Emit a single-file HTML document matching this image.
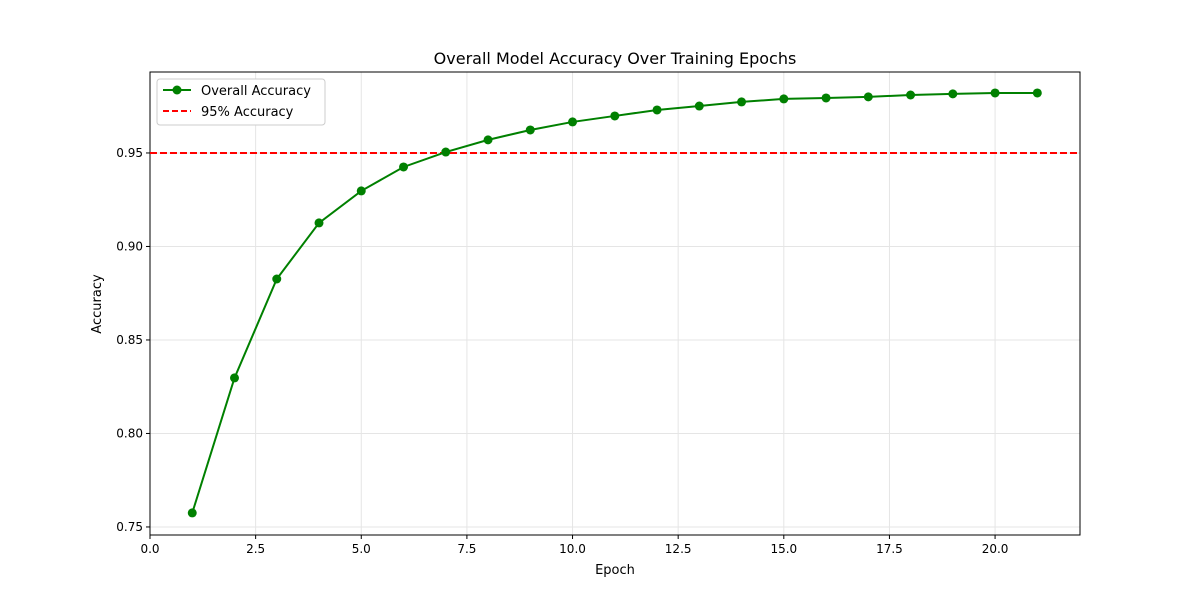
<!DOCTYPE html>
<html><head><meta charset="utf-8"><style>
body{margin:0;background:#fff}
svg text{font-family:"DejaVu Sans","Liberation Sans",sans-serif;fill:#000}
</style></head><body>
<svg id="chart" width="1200" height="600">
<rect width="1200" height="600" fill="#fff"/>
<text x="615" y="64" font-size="16" text-anchor="middle">Overall Model Accuracy Over Training Epochs</text>
<g id="grid"></g><g id="axes"></g><g id="marks"></g>
<text x="615" y="574" font-size="13" text-anchor="middle">Epoch</text>
<text x="101" y="304" font-size="13" text-anchor="middle" transform="rotate(-90 101 304)">Accuracy</text>
<g>
<rect x="157" y="79" width="168" height="46" fill="#fff" stroke="#ccc" rx="3"/>
<line x1="163" y1="90" x2="191" y2="90" stroke="green" stroke-width="2"/><circle cx="177" cy="90" r="4.5" fill="green"/>
<text x="201" y="95" font-size="13">Overall Accuracy</text>
<line x1="163" y1="111" x2="191" y2="111" stroke="red" stroke-width="2" stroke-dasharray="6,3"/>
<text x="201" y="116" font-size="13">95% Accuracy</text>
</g>
</svg>
<script>
const epochs=[1,2,3,4,5,6,7,8,9,10,11,12,13,14,15,16,17,18,19,20,21];
const accuracy=[0.7575,0.8297,0.8826,0.9126,0.9297,0.9425,0.9505,0.957,0.9623,0.9666,0.9698,0.973,0.9751,0.9773,0.9789,0.9794,0.98,0.981,0.9816,0.9821,0.9821];
const xTicks=[0,2.5,5,7.5,10,12.5,15,17.5,20];
const yTicks=[0.75,0.80,0.85,0.90,0.95];
const threshold=0.95;
const L=150,R=1080,T=72,B=535;
const xMin=0,xMax=22.01,yMin=0.7457,yMax=0.9933;
const sx=v=>L+(v-xMin)/(xMax-xMin)*(R-L);
const sy=v=>B-(v-yMin)/(yMax-yMin)*(B-T);
const NS="http://www.w3.org/2000/svg";
function mk(tag,attrs,parent){const e=document.createElementNS(NS,tag);for(const k in attrs)e.setAttribute(k,attrs[k]);parent.appendChild(e);return e;}
const grid=document.getElementById('grid'),axes=document.getElementById('axes'),marks=document.getElementById('marks');
xTicks.forEach(t=>{const x=sx(t);
 const g=mk('line',{x1:x,x2:x,y1:T,y2:B,stroke:'#e5e5e5'},grid);
 
 
 mk('line',{x1:x,x2:x,y1:B,y2:B+4,stroke:'#000'},axes);
 const tx=mk('text',{x:x,y:B+18,'font-size':12,'text-anchor':'middle'},axes);tx.textContent=t.toFixed(1);
 
 });
yTicks.forEach(t=>{const y=sy(t);
 const g=mk('line',{x1:L,x2:R,y1:y,y2:y,stroke:'#e5e5e5'},grid);
 
 
 mk('line',{x1:L-4,x2:L,y1:y,y2:y,stroke:'#000'},axes);
 const tx=mk('text',{x:L-7,y:y+4,'font-size':12,'text-anchor':'end'},axes);tx.textContent=t.toFixed(2);
 
 });
const frame=mk('rect',{x:L,y:T,width:R-L,height:B-T,fill:'none',stroke:'#000'},axes);


const th=mk('line',{x1:L,x2:R,y1:sy(threshold),y2:sy(threshold),stroke:'red','stroke-width':2,'stroke-dasharray':'7,3'},marks);


const pl=mk('polyline',{points:epochs.map((e,i)=>sx(e)+','+sy(accuracy[i])).join(' '),fill:'none',stroke:'green','stroke-width':2},marks);


epochs.forEach((e,i)=>{const c=mk('circle',{cx:sx(e),cy:sy(accuracy[i]),r:4.5,fill:'green'},marks);
 
 });
</script>
</body></html>
